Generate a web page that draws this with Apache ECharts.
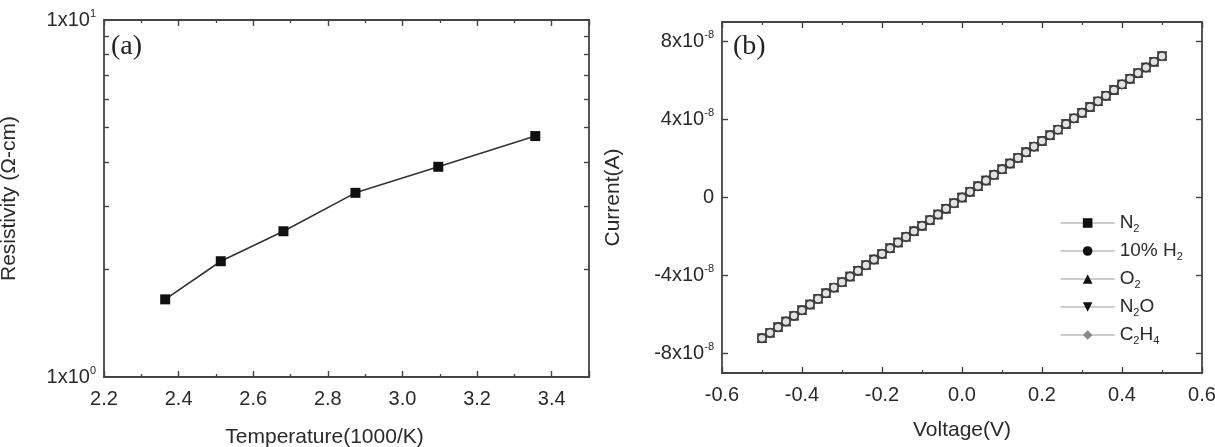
<!DOCTYPE html>
<html>
<head>
<meta charset="utf-8">
<script src="https://cdn.jsdelivr.net/npm/echarts@6/dist/echarts.min.js"></script>
<style>
  html, body { margin: 0; padding: 0; background: #fff; }
  #main { width: 1215px; height: 447px; }
</style>
</head>
<body>
<div id="main"></div>
<script>
// (a) resistivity vs 1000/T
var tempX = [2.364, 2.513, 2.681, 2.874, 3.096, 3.356];
var resistivity = [1.65, 2.11, 2.56, 3.28, 3.88, 4.73];
var logMinor = [2, 3, 4, 5, 6, 7, 8, 9];

// (b) I-V sweep, same curve for every gas
var voltage = [-0.50, -0.48, -0.46, -0.44, -0.42, -0.40, -0.38, -0.36, -0.34, -0.32,
  -0.30, -0.28, -0.26, -0.24, -0.22, -0.20, -0.18, -0.16, -0.14, -0.12,
  -0.10, -0.08, -0.06, -0.04, -0.02, 0.00, 0.02, 0.04, 0.06, 0.08,
  0.10, 0.12, 0.14, 0.16, 0.18, 0.20, 0.22, 0.24, 0.26, 0.28,
  0.30, 0.32, 0.34, 0.36, 0.38, 0.40, 0.42, 0.44, 0.46, 0.48, 0.50];
var current = [-7.22e-8, -6.94e-8, -6.65e-8, -6.36e-8, -6.07e-8, -5.78e-8, -5.49e-8, -5.20e-8, -4.91e-8, -4.62e-8,
  -4.34e-8, -4.05e-8, -3.76e-8, -3.47e-8, -3.18e-8, -2.89e-8, -2.60e-8, -2.31e-8, -2.02e-8, -1.73e-8,
  -1.45e-8, -1.16e-8, -0.87e-8, -0.58e-8, -0.29e-8, 0, 0.29e-8, 0.58e-8, 0.87e-8, 1.16e-8,
  1.45e-8, 1.74e-8, 2.03e-8, 2.32e-8, 2.61e-8, 2.90e-8, 3.19e-8, 3.48e-8, 3.77e-8, 4.06e-8,
  4.35e-8, 4.64e-8, 4.93e-8, 5.22e-8, 5.51e-8, 5.80e-8, 6.09e-8, 6.38e-8, 6.67e-8, 6.96e-8, 7.25e-8];
var gases = ['N2', '10% H2', 'O2', 'N2O', 'C2H4'];
var gasLabels = ['N{sub|2}', '10% H{sub|2}', 'O{sub|2}', 'N{sub|2}O', 'C{sub|2}H{sub|4}'];
var gasSymbols = ['rect', 'circle', 'triangle', 'triangle', 'diamond'];
var gasRotate = [0, 0, 0, 180, 0];
var gasColors = ['#111', '#111', '#111', '#111', '#8a8a8a'];
var currentTicks = [-8e-8, -4e-8, 0, 4e-8, 8e-8];

var font = 'Liberation Sans, Arial, sans-serif';
var axisColor = '#444';
var textColor = '#2a2a2a';

function pairs(xs, ys) {
  var out = [];
  for (var i = 0; i < xs.length; i++) {
    out.push([xs[i], ys[i]]);
  }
  return out;
}

function boxAxis(extra) {
  var base = {
    axisLine: { show: true, onZero: false, lineStyle: { color: axisColor, width: 1.8 } },
    axisTick: { show: true, inside: true, length: 6, lineStyle: { color: axisColor, width: 1.4 } },
    minorTick: { show: false },
    splitLine: { show: false },
    axisLabel: { show: false },
  };
  for (var k in extra) {
    base[k] = extra[k];
  }
  return base;
}

var labelStyle = {
  show: true,
  color: textColor,
  fontSize: 20,
  fontFamily: font,
  lineHeight: 24,
  rich: {
    sup: { fontSize: 11, verticalAlign: 'top', lineHeight: 24, color: textColor, fontFamily: font },
  },
};
var nameStyle = { fontFamily: font, fontSize: 21, color: textColor };
var minorX = { show: true, splitNumber: 2, length: 3, lineStyle: { color: axisColor, width: 1.3 } };

var series = [
  {
    type: 'line',
    xAxisIndex: 0,
    yAxisIndex: 0,
    data: pairs(tempX, resistivity),
    symbol: 'rect',
    symbolSize: 10,
    itemStyle: { color: '#111' },
    lineStyle: { color: '#333', width: 1.6 },
    silent: true,
  },
];
// all five sweeps overlap; the 10% H2 circles are drawn last so they are the ones seen
var drawOrder = [0, 2, 3, 4, 1];
for (var d = 0; d < drawOrder.length; d++) {
  var g = drawOrder[d];
  var top = d == drawOrder.length - 1;
  series.push({
    type: 'line',
    name: gases[g],
    xAxisIndex: 2,
    yAxisIndex: 2,
    data: pairs(voltage, current),
    symbol: gasSymbols[g],
    symbolRotate: gasRotate[g],
    symbolSize: top ? 8 : 3,
    showAllSymbol: true,
    itemStyle: top
      ? { color: '#e2e2e2', borderColor: '#3c3c3c', borderWidth: 1.4 }
      : { color: gasColors[g] },
    lineStyle: { color: '#c4c4c4', width: 1.3 },
    silent: true,
  });
}

var legendItems = [];
for (var j = 0; j < gases.length; j++) {
  legendItems.push({
    name: gases[j],
    itemStyle: { color: gasColors[j], borderWidth: 0 },
    lineStyle: { color: '#bdbdbd', width: 1.3 },
  });
}

var chart = echarts.init(document.getElementById('main'));
chart.setOption({
  animation: false,
  backgroundColor: '#fff',
  title: [
    { text: '(a)', left: 111, top: 33, padding: 0, textStyle: { fontFamily: 'Liberation Serif, serif', fontSize: 28, fontWeight: 'normal', color: '#222' } },
    { text: '(b)', left: 733, top: 33, padding: 0, textStyle: { fontFamily: 'Liberation Serif, serif', fontSize: 28, fontWeight: 'normal', color: '#222' } },
  ],
  legend: {
    data: legendItems,
    orient: 'vertical',
    left: 1055,
    top: 207,
    itemWidth: 54,
    itemHeight: 12,
    itemGap: 6,
    textStyle: {
      fontFamily: font,
      fontSize: 19,
      color: textColor,
      lineHeight: 22,
      rich: {
        sub: { fontSize: 11, verticalAlign: 'bottom', lineHeight: 22, color: textColor, fontFamily: font },
      },
    },
    formatter: function(name) {
      return gasLabels[gases.indexOf(name)];
    },
  },
  grid: [
    { left: 104, top: 20, right: 626, bottom: 70, outerBoundsMode: 'none' },
    { left: 722, top: 22, right: 13, bottom: 74, outerBoundsMode: 'none' },
  ],
  xAxis: [
    boxAxis({
      type: 'value',
      gridIndex: 0,
      position: 'bottom',
      min: 2.2,
      max: 3.5,
      interval: 0.2,
      minorTick: minorX,
      axisLabel: Object.assign({}, labelStyle, {
        margin: 10,
        showMaxLabel: false,
        formatter: function(v) { return v.toFixed(1); },
      }),
      name: 'Temperature(1000/K)',
      nameLocation: 'middle',
      nameGap: 50,
      nameTextStyle: Object.assign({}, nameStyle, { padding: [0, 44, 0, 0] }),
    }),
    boxAxis({
      type: 'value',
      gridIndex: 0,
      position: 'top',
      min: 2.2,
      max: 3.5,
      interval: 0.2,
      minorTick: minorX,
    }),
    boxAxis({
      type: 'value',
      gridIndex: 1,
      position: 'bottom',
      min: -0.6,
      max: 0.6,
      interval: 0.2,
      minorTick: minorX,
      axisLabel: Object.assign({}, labelStyle, {
        margin: 10,
        formatter: function(v) { return v.toFixed(1); },
      }),
      name: 'Voltage(V)',
      nameLocation: 'middle',
      nameGap: 47,
      nameTextStyle: nameStyle,
    }),
    boxAxis({
      type: 'value',
      gridIndex: 1,
      position: 'top',
      min: -0.6,
      max: 0.6,
      interval: 0.2,
      minorTick: minorX,
    }),
  ],
  yAxis: [
    boxAxis({
      type: 'log',
      logBase: 10,
      gridIndex: 0,
      position: 'left',
      min: 1,
      max: 10,
      axisTick: { show: true, inside: true, length: 5, customValues: logMinor, lineStyle: { color: axisColor, width: 1.4 } },
      axisLabel: Object.assign({}, labelStyle, {
        margin: 8,
        formatter: function(v) { return v >= 10 ? '1x10{sup|1}' : '1x10{sup|0}'; },
      }),
      name: 'Resistivity (\u03a9-cm)',
      nameLocation: 'middle',
      nameGap: 84,
      nameTextStyle: nameStyle,
    }),
    boxAxis({
      type: 'log',
      logBase: 10,
      gridIndex: 0,
      position: 'right',
      min: 1,
      max: 10,
      axisTick: { show: true, inside: true, length: 5, customValues: logMinor, lineStyle: { color: axisColor, width: 1.4 } },
    }),
    boxAxis({
      type: 'value',
      gridIndex: 1,
      position: 'left',
      min: -9e-8,
      max: 9e-8,
      axisTick: { show: true, inside: true, length: 6, customValues: currentTicks, lineStyle: { color: axisColor, width: 1.4 } },
      axisLabel: Object.assign({}, labelStyle, {
        margin: 8,
        customValues: currentTicks,
        formatter: function(v) {
          var m = Math.round(v / 1e-8);
          if (m == 0) return '0';
          return m + 'x10{sup|-8}';
        },
      }),
      name: 'Current(A)',
      nameLocation: 'middle',
      nameGap: 98,
      nameTextStyle: nameStyle,
    }),
    boxAxis({
      type: 'value',
      gridIndex: 1,
      position: 'right',
      min: -9e-8,
      max: 9e-8,
      axisTick: { show: true, inside: true, length: 6, customValues: currentTicks, lineStyle: { color: axisColor, width: 1.4 } },
    }),
  ],
  series: series,
});
</script>
</body>
</html>
